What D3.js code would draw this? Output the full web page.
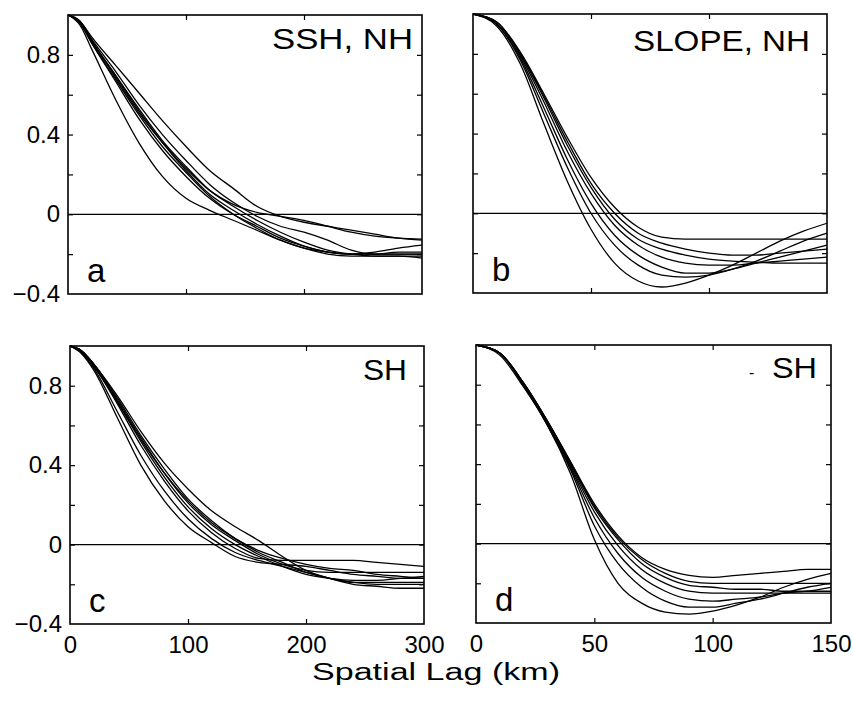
<!DOCTYPE html>
<html>
<head>
<meta charset="utf-8">
<script src="https://cdn.jsdelivr.net/npm/d3@7"></script>
<style>
  html, body { margin: 0; padding: 0; background: #fff; }
  svg { display: block; }
  text { font-family: "Liberation Sans", Arial, Helvetica, sans-serif; fill: #000; }
</style>
</head>
<body>
<svg id="chart" width="853" height="708"></svg>
<script>
// ---------------- DATA ----------------
const lagSSH = [0, 10, 20, 40, 60, 80, 100, 120, 140, 160, 180, 200, 220, 240, 260, 280, 300];
const lagSlope = [0, 10, 20, 30, 40, 50, 60, 70, 80, 90, 100, 110, 120, 130, 140, 150];

// panel a: SSH, NH
const sshNH = [
  [1, 0.95, 0.83, 0.58, 0.36, 0.19, 0.08, 0.02, -0.03, -0.08, -0.13, -0.17, -0.19, -0.20, -0.20, -0.20, -0.20],
  [1, 0.96, 0.86, 0.68, 0.50, 0.34, 0.21, 0.09, 0.00, -0.07, -0.13, -0.17, -0.20, -0.21, -0.21, -0.21, -0.22],
  [1, 0.96, 0.86, 0.67, 0.48, 0.32, 0.19, 0.08, 0.00, -0.06, -0.12, -0.16, -0.19, -0.20, -0.19, -0.17, -0.155],
  [1, 0.965, 0.87, 0.70, 0.53, 0.37, 0.24, 0.12, 0.04, -0.03, -0.09, -0.14, -0.18, -0.20, -0.21, -0.21, -0.21],
  [1, 0.97, 0.88, 0.72, 0.55, 0.40, 0.27, 0.15, 0.06, -0.01, -0.06, -0.09, -0.13, -0.18, -0.20, -0.20, -0.20],
  [1, 0.97, 0.89, 0.75, 0.61, 0.47, 0.34, 0.22, 0.13, 0.04, -0.01, -0.04, -0.06, -0.08, -0.10, -0.12, -0.13],
  [1, 0.965, 0.87, 0.69, 0.51, 0.36, 0.23, 0.12, 0.05, 0.01, -0.01, -0.03, -0.06, -0.09, -0.11, -0.12, -0.125],
  [1, 0.965, 0.87, 0.70, 0.52, 0.36, 0.22, 0.10, 0.02, -0.05, -0.11, -0.16, -0.19, -0.20, -0.20, -0.19, -0.19]
];

// panel b: SLOPE, NH
const slopeNH = [
  [1, 0.94, 0.75, 0.45, 0.16, -0.08, -0.25, -0.34, -0.37, -0.35, -0.31, -0.26, -0.20, -0.14, -0.09, -0.05],
  [1, 0.95, 0.77, 0.50, 0.23, 0.00, -0.16, -0.26, -0.31, -0.32, -0.31, -0.28, -0.24, -0.19, -0.14, -0.10],
  [1, 0.95, 0.78, 0.53, 0.27, 0.05, -0.11, -0.21, -0.27, -0.30, -0.30, -0.28, -0.25, -0.22, -0.19, -0.16],
  [1, 0.95, 0.79, 0.56, 0.31, 0.10, -0.06, -0.16, -0.22, -0.25, -0.26, -0.26, -0.25, -0.24, -0.23, -0.22],
  [1, 0.96, 0.80, 0.58, 0.34, 0.13, -0.03, -0.13, -0.18, -0.21, -0.23, -0.24, -0.245, -0.25, -0.25, -0.25],
  [1, 0.96, 0.81, 0.60, 0.38, 0.18, 0.03, -0.07, -0.12, -0.13, -0.13, -0.13, -0.13, -0.13, -0.13, -0.13],
  [1, 0.96, 0.80, 0.59, 0.36, 0.15, 0.00, -0.10, -0.15, -0.18, -0.20, -0.21, -0.21, -0.20, -0.19, -0.18]
];

// panel c: SSH, SH
const sshSH = [
  [1, 0.96, 0.88, 0.64, 0.40, 0.22, 0.09, 0.01, -0.06, -0.09, -0.10, -0.11, -0.13, -0.15, -0.16, -0.17, -0.17],
  [1, 0.965, 0.89, 0.67, 0.45, 0.27, 0.13, 0.03, -0.04, -0.08, -0.11, -0.14, -0.17, -0.19, -0.20, -0.20, -0.20],
  [1, 0.97, 0.90, 0.71, 0.50, 0.32, 0.17, 0.06, -0.02, -0.07, -0.08, -0.08, -0.08, -0.08, -0.09, -0.10, -0.11],
  [1, 0.97, 0.90, 0.72, 0.52, 0.34, 0.19, 0.08, 0.00, -0.06, -0.11, -0.15, -0.17, -0.18, -0.18, -0.17, -0.16],
  [1, 0.975, 0.91, 0.73, 0.54, 0.36, 0.21, 0.10, 0.02, -0.05, -0.10, -0.13, -0.14, -0.14, -0.14, -0.14, -0.14],
  [1, 0.975, 0.91, 0.74, 0.55, 0.38, 0.23, 0.12, 0.03, -0.04, -0.09, -0.14, -0.17, -0.19, -0.19, -0.19, -0.19],
  [1, 0.975, 0.91, 0.75, 0.57, 0.41, 0.28, 0.17, 0.09, 0.02, -0.06, -0.13, -0.17, -0.20, -0.21, -0.22, -0.22],
  [1, 0.97, 0.90, 0.72, 0.53, 0.36, 0.22, 0.11, 0.03, -0.03, -0.07, -0.10, -0.12, -0.13, -0.15, -0.16, -0.17]
];

// panel d: SLOPE, SH
const slopeSH = [
  [1, 0.95, 0.79, 0.60, 0.35, 0.02, -0.20, -0.30, -0.345, -0.355, -0.34, -0.31, -0.27, -0.22, -0.18, -0.15],
  [1, 0.96, 0.80, 0.60, 0.37, 0.09, -0.10, -0.22, -0.29, -0.32, -0.32, -0.30, -0.28, -0.25, -0.22, -0.20],
  [1, 0.96, 0.80, 0.60, 0.38, 0.13, -0.05, -0.17, -0.24, -0.28, -0.29, -0.28, -0.27, -0.25, -0.24, -0.22],
  [1, 0.96, 0.80, 0.61, 0.39, 0.16, -0.01, -0.13, -0.20, -0.24, -0.25, -0.25, -0.25, -0.25, -0.25, -0.25],
  [1, 0.96, 0.81, 0.62, 0.40, 0.18, 0.02, -0.10, -0.17, -0.21, -0.22, -0.23, -0.23, -0.24, -0.24, -0.24],
  [1, 0.96, 0.81, 0.62, 0.41, 0.20, 0.04, -0.07, -0.13, -0.16, -0.17, -0.16, -0.15, -0.14, -0.13, -0.13],
  [1, 0.96, 0.81, 0.62, 0.41, 0.19, 0.03, -0.08, -0.15, -0.19, -0.20, -0.20, -0.20, -0.20, -0.20, -0.20]
];

const yTickLabels = [0.8, 0.4, 0, -0.4];
const yMinorTicks = [0.8, 0.6, 0.4, 0.2, 0, -0.2];
const xTicksSSH = [0, 100, 200, 300];
const xTicksSlope = [0, 50, 100, 150];
const panelTitles = ["SSH, NH", "SLOPE, NH", "SH", "SH"];
const panelLetters = ["a", "b", "c", "d"];
const xAxisTitle = "Spatial Lag (km)";

// ---------------- LAYOUT ----------------
const layout = [
  { x0: 68,  x1: 422, y0: 15,  y1: 294, xmax: 300, lags: lagSSH,   data: sshNH,   xt: xTicksSSH,   showY: true,  showX: false, titleW: 141, titleR: 413, titleB: 49 },
  { x0: 473, x1: 827, y0: 14,  y1: 293, xmax: 150, lags: lagSlope, data: slopeNH, xt: xTicksSlope, showY: false, showX: false, titleW: 177, titleR: 810, titleB: 51 },
  { x0: 70,  x1: 424, y0: 346, y1: 624, xmax: 300, lags: lagSSH,   data: sshSH,   xt: xTicksSSH,   showY: true,  showX: true,  titleW: 44,  titleR: 407, titleB: 380 },
  { x0: 476, x1: 831, y0: 345, y1: 623, xmax: 150, lags: lagSlope, data: slopeSH, xt: xTicksSlope, showY: false, showX: true,  titleW: 45,  titleR: 817, titleB: 378 }
];

const svg = d3.select("#chart");

layout.forEach((p, i) => {
  const x = d3.scaleLinear().domain([0, p.xmax]).range([p.x0, p.x1]);
  const y = d3.scaleLinear().domain([-0.4, 1]).range([p.y1, p.y0]);
  const g = svg.append("g");

  // curves
  const line = d3.line()
    .x((d, k) => x(p.lags[k]))
    .y(d => y(d))
    .curve(d3.curveMonotoneX);
  g.selectAll("path.curve").data(p.data).enter().append("path")
    .attr("class", "curve")
    .attr("d", line)
    .attr("fill", "none")
    .attr("stroke", "#000")
    .attr("stroke-width", 1.3);

  // zero line
  g.append("line")
    .attr("x1", x(0)).attr("x2", x(p.xmax))
    .attr("y1", y(0)).attr("y2", y(0))
    .attr("stroke", "#000").attr("stroke-width", 1.2);

  // inward ticks via axes
  const inner = p.xt.filter(v => v > 0 && v < p.xmax);
  const axB = d3.axisBottom(x).tickValues(inner).tickSize(-5).tickFormat("");
  const axT = d3.axisTop(x).tickValues(inner).tickSize(-5).tickFormat("");
  const axL = d3.axisLeft(y).tickValues(yMinorTicks).tickSize(-5).tickFormat("");
  const axR = d3.axisRight(y).tickValues(yMinorTicks).tickSize(-5).tickFormat("");
  [[axB, `translate(0,${p.y1})`], [axT, `translate(0,${p.y0})`], [axL, `translate(${p.x0},0)`], [axR, `translate(${p.x1},0)`]]
    .forEach(([ax, tr]) => {
      const a = g.append("g").attr("transform", tr).call(ax);
      a.select(".domain").remove();
      a.selectAll("line").attr("stroke", "#000").attr("stroke-width", 1.2);
    });

  // tick labels
  if (p.showY) {
    const ay = g.append("g").attr("transform", `translate(${p.x0},0)`)
      .call(d3.axisLeft(y).tickValues(yTickLabels).tickSize(0).tickPadding(8)
        .tickFormat(v => v === 0 ? "0" : (v < 0 ? "\u2212" + Math.abs(v) : String(v))));
    ay.select(".domain").remove();
    ay.selectAll("text").attr("font-size", 24).attr("font-family", "Liberation Sans, Arial, sans-serif").attr("fill", "#000");
  }
  if (p.showX) {
    const ax = g.append("g").attr("transform", `translate(0,${p.y1})`)
      .call(d3.axisBottom(x).tickValues(p.xt).tickSize(0).tickPadding(12).tickFormat(d3.format("d")));
    ax.select(".domain").remove();
    ax.selectAll("text").attr("font-size", 24).attr("font-family", "Liberation Sans, Arial, sans-serif").attr("fill", "#000");
  }

  // frame
  g.append("rect")
    .attr("x", p.x0).attr("y", p.y0)
    .attr("width", p.x1 - p.x0).attr("height", p.y1 - p.y0)
    .attr("fill", "none").attr("stroke", "#000").attr("stroke-width", 1.6);

  // title
  g.append("text")
    .attr("x", p.titleR - p.titleW).attr("y", p.titleB)
    .attr("font-size", 29)
    .attr("textLength", p.titleW).attr("lengthAdjust", "spacingAndGlyphs")
    .text(panelTitles[i]);

  // letter
  g.append("text")
    .attr("x", p.x0 + 19).attr("y", p.y1 - 12)
    .attr("font-size", 33)
    .text(panelLetters[i]);

  if (i === 3) {
    g.append("text")
      .attr("x", 749).attr("y", 378)
      .attr("font-size", 16)
      .text("-");
  }
});

svg.append("text")
  .attr("x", 312).attr("y", 680)
  .attr("font-size", 23)
  .attr("textLength", 248).attr("lengthAdjust", "spacingAndGlyphs")
  .text(xAxisTitle);
</script>
</body>
</html>
